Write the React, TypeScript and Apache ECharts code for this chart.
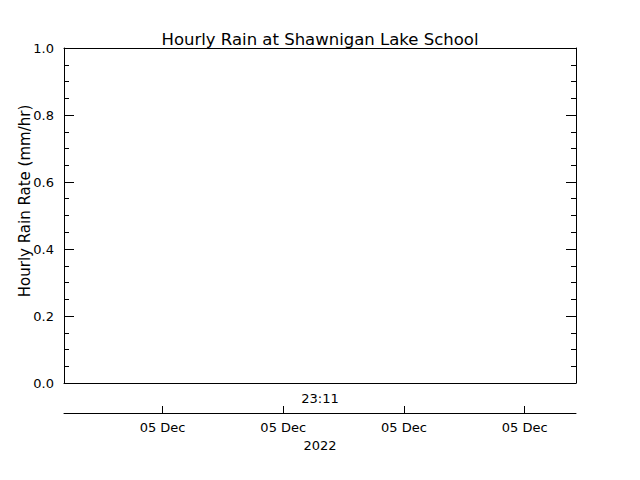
import React, { useEffect, useRef } from "react";
import * as echarts from "echarts";

// hours relative to 05 Dec 2022 00:00
const xRange = [-1.9, 23.55];
const tickHours = [3, 9, 15, 21];
const tickLabel = "05 Dec";
const yearLabel = "2022";
const updatedAt = "23:11";

// hourly rain rate (mm/hr) - no readings in this window
const rainHours: number[] = [];
const rainRate: number[] = [];

const FONT = "DejaVu Sans";

const App: React.FC = () => {
  const chartRef = useRef<HTMLDivElement>(null);

  useEffect(() => {
    if (!chartRef.current) return;
    const chart = echarts.init(chartRef.current, undefined, { renderer: "svg" });

    const line = { show: true, onZero: false, lineStyle: { color: "#000", width: 1 } };
    const option = {
      animation: false,
      backgroundColor: "#fff",
      textStyle: { fontFamily: FONT, color: "#000" },
      title: [
        {
          text: "Hourly Rain at Shawnigan Lake School",
          left: "center",
          top: 26,
          textStyle: { fontFamily: FONT, fontSize: 16.5, fontWeight: "normal", color: "#000" },
        },
        {
          text: updatedAt,
          left: "center",
          top: 387,
          textStyle: { fontFamily: FONT, fontSize: 13, fontWeight: "normal", color: "#000" },
        },
      ],
      graphic: [
        {
          type: "text",
          x: 25,
          y: 201,
          rotation: Math.PI / 2,
          style: {
            text: "Hourly Rain Rate (mm/hr)",
            fontFamily: FONT,
            fontSize: 15,
            fill: "#000",
            textAlign: "center",
            textVerticalAlign: "middle",
          },
        },
      ],
      grid: { left: 64, right: 64, top: 48, bottom: 97, containLabel: false },
      xAxis: [
        {
          type: "value",
          position: "bottom",
          min: xRange[0],
          max: xRange[1],
          axisLine: line,
          axisTick: { show: false },
          axisLabel: { show: false },
          splitLine: { show: false },
        },
        {
          type: "value",
          position: "top",
          min: xRange[0],
          max: xRange[1],
          axisLine: line,
          axisTick: { show: false },
          axisLabel: { show: false },
          splitLine: { show: false },
        },
        {
          type: "value",
          position: "bottom",
          offset: 30,
          min: xRange[0],
          max: xRange[1],
          axisLine: line,
          axisTick: {
            show: true,
            inside: true,
            length: 7,
            lineStyle: { color: "#000", width: 1 },
            customValues: tickHours,
          },
          axisLabel: {
            show: true,
            margin: 8,
            fontSize: 13,
            color: "#000",
            fontFamily: FONT,
            customValues: tickHours,
            formatter: () => tickLabel,
          },
          splitLine: { show: false },
          name: yearLabel,
          nameLocation: "middle",
          nameGap: 23,
          nameTextStyle: { fontSize: 13, color: "#000", fontFamily: FONT },
        },
      ],
      yAxis: [
        {
          type: "value",
          position: "left",
          min: 0,
          max: 1,
          interval: 0.2,
          axisLine: line,
          axisTick: { show: true, inside: true, length: 10, lineStyle: { color: "#000" } },
          minorTick: { show: true, splitNumber: 4, length: 5, lineStyle: { color: "#000" } },
          axisLabel: {
            margin: 10,
            fontSize: 13,
            color: "#000",
            fontFamily: FONT,
            formatter: (v: number) => v.toFixed(1),
          },
          splitLine: { show: false },
        },
        {
          type: "value",
          position: "right",
          min: 0,
          max: 1,
          interval: 0.2,
          axisLine: line,
          axisTick: { show: true, inside: true, length: 10, lineStyle: { color: "#000" } },
          minorTick: { show: true, splitNumber: 4, length: 5, lineStyle: { color: "#000" } },
          axisLabel: { show: false },
          splitLine: { show: false },
        },
      ],
      series: [
        {
          type: "line",
          xAxisIndex: 0,
          yAxisIndex: 0,
          data: rainHours.map((h, i) => [h, rainRate[i]]),
          symbol: "none",
          lineStyle: { color: "#000", width: 1 },
        },
      ],
    };
    chart.setOption(option);
    return () => chart.dispose();
  }, []);

  return (
    <div
      ref={chartRef}
      style={{ position: "fixed", left: 0, top: 0, width: 640, height: 480 }}
    />
  );
};

export default App;
